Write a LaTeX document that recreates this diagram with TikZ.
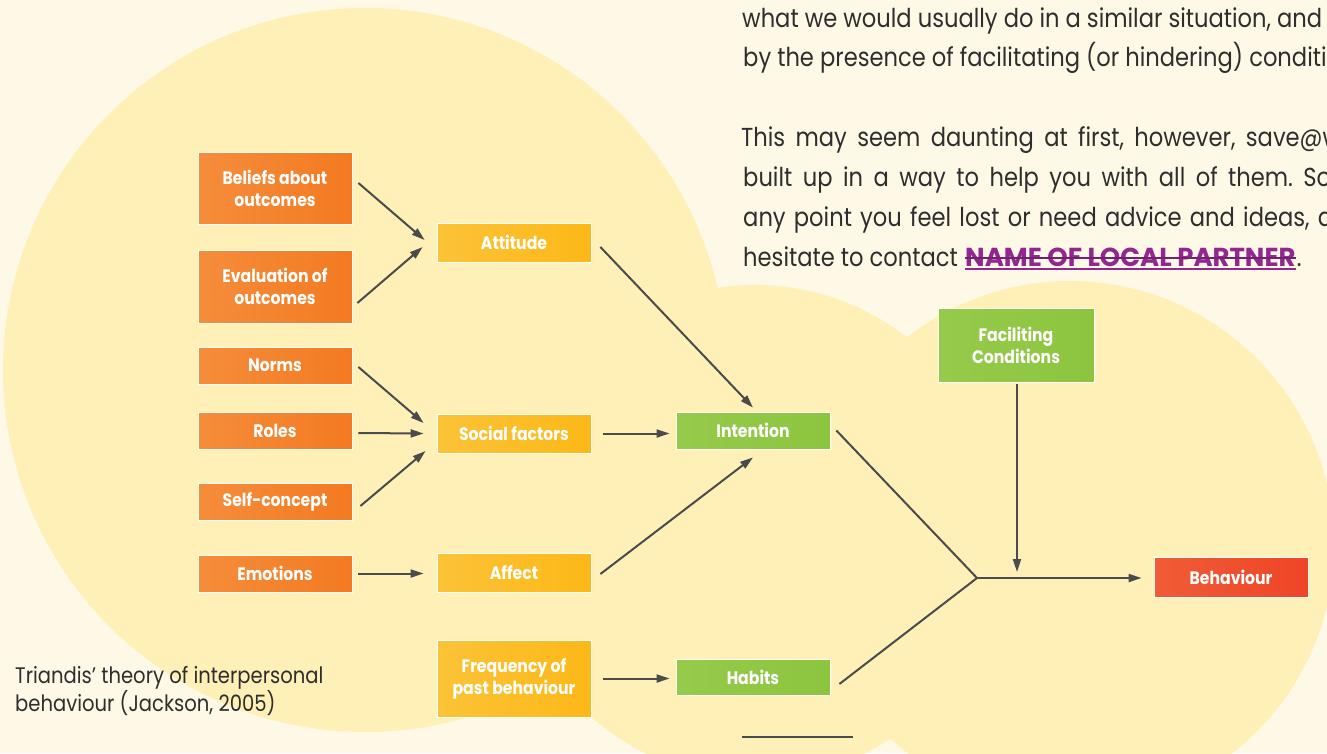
\documentclass[tikz,border=0pt]{standalone}
\usepackage{fontspec}
\setmainfont{Poppins}
\newfontfamily\labelfont[FakeStretch=0.87]{Poppins}
\newfontfamily\bodyfont[FakeStretch=0.87]{Poppins}
\newfontfamily\partnerfont{Poppins}
\usetikzlibrary{arrows.meta,positioning}
\definecolor{cream}{HTML}{FEF9E6}
\definecolor{sun}{HTML}{FFF0B8}
\definecolor{orangeA}{HTML}{F58D3B}
\definecolor{orangeB}{HTML}{F37A21}
\definecolor{yellowA}{HTML}{FBC337}
\definecolor{yellowB}{HTML}{FDB817}
\definecolor{greenA}{HTML}{96CA4B}
\definecolor{greenB}{HTML}{8CC53F}
\definecolor{redA}{HTML}{F05C37}
\definecolor{redB}{HTML}{EE4527}
\definecolor{arrowgrey}{HTML}{4B4B4D}
\definecolor{ink}{HTML}{2E2E2E}
\definecolor{partnercol}{HTML}{92278F}
\frenchspacing
\begin{document}
\begin{tikzpicture}[x=1pt, y=-1pt,
  box/.style={draw=white, line width=0.8pt, minimum width=154pt, inner sep=0pt, align=center, text=white, font=\labelfont\bfseries\fontsize{18}{22}\selectfont},
  orangebox/.style={box, left color=orangeA, right color=orangeB},
  yellowbox/.style={box, left color=yellowA, right color=yellowB},
  greenbox/.style={box, left color=greenA, right color=greenB},
  redbox/.style={box, left color=redA, right color=redB},
  bodytext/.style={inner sep=0pt, anchor=base west, text=ink, font=\bodyfont\fontsize{26}{40}\selectfont},
  arr/.style={draw=arrowgrey, line width=2pt, -{Triangle[length=13pt,width=8pt]}},
  link/.style={draw=arrowgrey, line width=2pt}]
\clip (0,0) rectangle (1327,753);
\fill[cream] (0,0) rectangle (1327,753);
\fill[sun] (365,370) circle[radius=362];
\fill[sun] (755,532) circle[radius=247];
\fill[sun] (1070,545) circle[radius=264];

\node[bodytext] (lineA) at (742,27) {what we would usually do in a similar situation, and};
\node[bodytext] (lineB) at (743,66) {by the presence of facilitating (or hindering) conditi};
\node[bodytext] (lineC) at (741,146) {\makebox[600pt][s]{This may seem daunting at first, however, save@w}};
\node[bodytext] (lineD) at (743,186) {\makebox[588pt][s]{built up in a way to help you with all of them. So}};
\node[bodytext] (lineE) at (743,226) {\makebox[590pt][s]{any point you feel lost or need advice and ideas, d}};
\node[bodytext] (lineF) at (743,266) {hesitate to contact};
\node[bodytext, text=partnercol, font=\partnerfont\bfseries\fontsize{26}{40}\selectfont, right=7pt of lineF.base east, anchor=base west] (partner) {NAME OF LOCAL PARTNER};
\node[bodytext, right=1pt of partner.base east, anchor=base west] (dot) {.};
\draw[partnercol, line width=1.6pt] ([yshift=-3pt]partner.base west) -- ([yshift=-3pt]partner.base east);
\draw[partnercol!80!black, line width=1.4pt] ([yshift=8pt]partner.base west) -- ([yshift=8pt]partner.base east);

\node[bodytext, align=left, font=\bodyfont\fontsize{22.5}{26}\selectfont] (caption) at (15,711) {Triandis’ theory of interpersonal\\behaviour (Jackson, 2005)};

\node[orangebox, minimum height=72pt] (beliefs) at (275,188) {Beliefs about\\outcomes};
\node[orangebox, minimum height=73pt] (evaluation) at (275,286.5) {Evaluation of\\outcomes};
\node[orangebox, minimum height=37pt] (norms) at (275,365.5) {Norms};
\node[orangebox, minimum height=37pt] (roles) at (275,430.5) {Roles};
\node[orangebox, minimum height=37pt] (selfconcept) at (275,501.5) {Self-concept};
\node[orangebox, minimum height=37pt] (emotions) at (275,573.5) {Emotions};
\node[yellowbox, minimum height=39pt] (attitude) at (514,242.5) {Attitude};
\node[yellowbox, minimum height=39pt] (social) at (514,433.5) {Social factors};
\node[yellowbox, minimum height=39pt] (affect) at (514,572.5) {Affect};
\node[yellowbox, minimum height=77pt] (frequency) at (514,678.5) {Frequency of\\past behaviour};
\node[greenbox, minimum height=37pt] (intention) at (753,430.5) {Intention};
\node[greenbox, minimum height=36pt] (habits) at (753,677) {Habits};
\node[greenbox, minimum width=156pt, minimum height=74pt] (facil) at (1016,345) {Faciliting\\Conditions};
\node[redbox, minimum height=40pt] (behaviour) at (1231,577) {Behaviour};
\coordinate (junc) at (977,578);

\draw[arr] ([xshift=6pt,yshift=5pt]beliefs.east) -- ([xshift=-12pt,yshift=2.5pt]attitude.west);
\draw[arr] ([xshift=5pt,yshift=-16.5pt]evaluation.east) -- ([xshift=-14pt,yshift=-4.5pt]attitude.west);
\draw[arr] ([xshift=9pt,yshift=-4.5pt]attitude.east) -- ([yshift=4pt]intention.north);
\draw[arr] ([xshift=6pt,yshift=-1.5pt]norms.east) -- ([xshift=-13pt,yshift=10.5pt]social.west);
\draw[arr] ([xshift=6pt,yshift=-2.5pt]roles.east) -- ([xshift=-13pt]social.west);
\draw[arr] ([xshift=8pt,yshift=-4.5pt]selfconcept.east) -- ([xshift=-11pt,yshift=-17.5pt]social.west);
\draw[arr] ([xshift=12pt]social.east) -- ([xshift=-6pt]social.east -| intention.west);
\draw[arr] ([xshift=6pt]emotions.east) -- ([xshift=-13pt]emotions.east -| affect.west);
\draw[arr] ([xshift=9pt,yshift=-1.5pt]affect.east) -- ([yshift=-8pt]intention.south);
\draw[arr] ([xshift=12pt]frequency.east) -- ([xshift=-6pt]frequency.east -| habits.west);
\draw[link] ([xshift=6pt]intention.east) -- (junc);
\draw[link] ([xshift=9pt,yshift=-7pt]habits.east) -- (junc);
\draw[arr] (junc) -- ([xshift=-12pt]behaviour.west |- junc);
\draw[arr] ([xshift=1pt,yshift=-2pt]facil.south) -- ([xshift=40pt,yshift=6pt]junc);
\coordinate (ruleA) at (742,737);
\coordinate (ruleB) at (853,737);
\draw[arrowgrey, line width=1.5pt] (ruleA) -- (ruleB);
\end{tikzpicture}
\end{document}
